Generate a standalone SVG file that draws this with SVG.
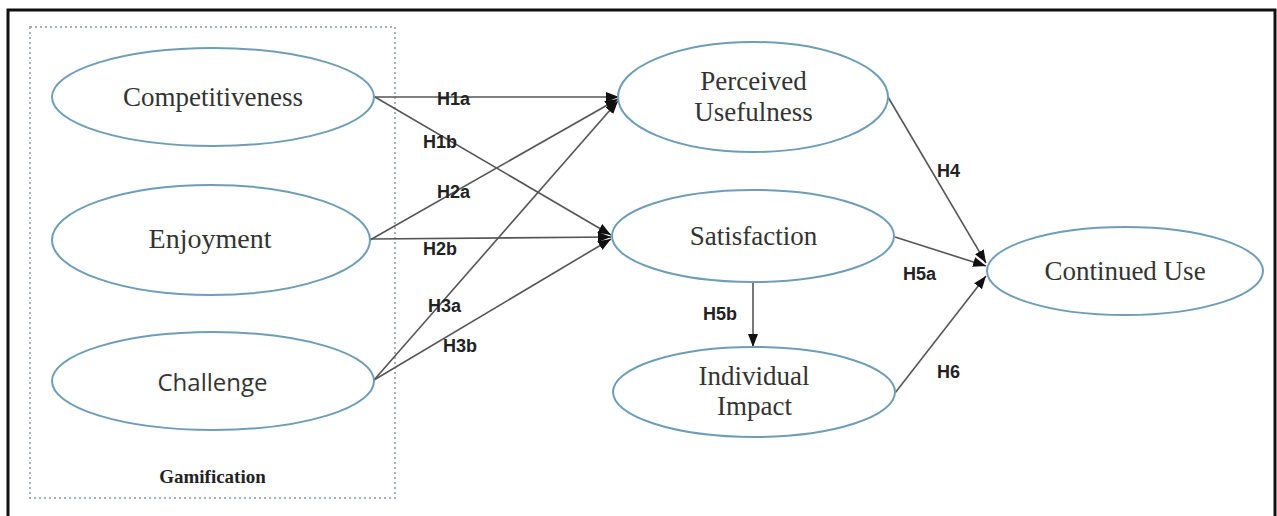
<svg xmlns="http://www.w3.org/2000/svg" width="1277" height="516" viewBox="0 0 1277 516">
<style>
.node{fill:#fff;stroke:#6f9db6;stroke-width:2}
.serif{font-family:"Liberation Serif","Times New Roman",serif;font-size:27px;fill:#333;text-anchor:middle}
.lab{font-family:"Liberation Sans",Arial,sans-serif;font-size:18px;font-weight:bold;fill:#222}
.edge{stroke:#555;stroke-width:1.6;fill:none;marker-end:url(#arr)}
</style>
<defs>
<marker id="arr" markerUnits="userSpaceOnUse" markerWidth="14" markerHeight="12" refX="13" refY="5" orient="auto">
<path d="M0,0 L13,5 L0,10 z" fill="#111"/>
</marker>
</defs>
<rect x="0" y="0" width="1277" height="516" fill="#fff"/>
<rect x="8" y="10" width="1267" height="530" fill="none" stroke="#111" stroke-width="3"/>
<g id="gamification">
<rect x="30" y="27" width="365" height="471" fill="none" stroke="#a9afb8" stroke-width="2" stroke-dasharray="2 3"/>
<text x="212.5" y="483" style="font-family:'Liberation Serif','Times New Roman',serif;font-size:19px;font-weight:bold;fill:#222;text-anchor:middle">Gamification</text>
</g>
<g id="connectors">
<line class="edge" x1="375" y1="97" x2="619" y2="97"/>
<line class="edge" x1="375" y1="97" x2="611" y2="235"/>
<line class="edge" x1="370" y1="240" x2="618" y2="99"/>
<line class="edge" x1="370" y1="239" x2="611" y2="237"/>
<line class="edge" x1="374" y1="380" x2="618" y2="101"/>
<line class="edge" x1="374" y1="380" x2="611" y2="239"/>
<line class="edge" x1="888" y1="97" x2="986" y2="263"/>
<line class="edge" x1="895" y1="237" x2="986" y2="266"/>
<line class="edge" x1="753" y1="282" x2="753" y2="347"/>
<line class="edge" x1="895" y1="393" x2="986" y2="276"/>
<text class="lab" x="437" y="105">H1a</text>
<text class="lab" x="423" y="148">H1b</text>
<text class="lab" x="437" y="198">H2a</text>
<text class="lab" x="423" y="255">H2b</text>
<text class="lab" x="428" y="312">H3a</text>
<text class="lab" x="443" y="352">H3b</text>
<text class="lab" x="937" y="177">H4</text>
<text class="lab" x="903" y="280">H5a</text>
<text class="lab" x="703" y="320">H5b</text>
<text class="lab" x="937" y="378">H6</text>
</g>
<g id="competitiveness">
<ellipse class="node" cx="213" cy="97" rx="161" ry="49"/>
<text class="serif" x="213" y="106">Competitiveness</text>
</g>
<g id="enjoyment">
<ellipse class="node" cx="211" cy="240" rx="159" ry="55"/>
<text class="serif" x="210" y="248" style="font-size:28px">Enjoyment</text>
</g>
<g id="challenge">
<ellipse class="node" cx="213" cy="381" rx="161" ry="49"/>
<text x="212.5" y="391" style="font-family:'Open Sans','Liberation Sans',sans-serif;font-size:24px;fill:#333;text-anchor:middle">Challenge</text>
</g>
<g id="perceived-usefulness">
<ellipse class="node" cx="753" cy="97" rx="135" ry="55"/>
<text class="serif" x="753.5" y="90">Perceived</text>
<text class="serif" x="753.5" y="121">Usefulness</text>
</g>
<g id="satisfaction">
<ellipse class="node" cx="753" cy="236" rx="141" ry="46"/>
<text class="serif" x="753.5" y="245">Satisfaction</text>
</g>
<g id="individual-impact">
<ellipse class="node" cx="754" cy="392" rx="141" ry="45"/>
<text class="serif" x="754" y="385">Individual</text>
<text class="serif" x="754.5" y="415">Impact</text>
</g>
<g id="continued-use">
<ellipse class="node" cx="1125" cy="271" rx="138" ry="44"/>
<text class="serif" x="1125" y="280">Continued Use</text>
</g>
</svg>
